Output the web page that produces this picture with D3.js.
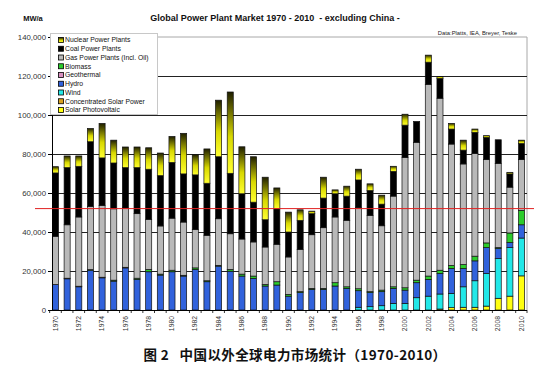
<!DOCTYPE html>
<html><head><meta charset="utf-8">
<script src="https://cdn.jsdelivr.net/npm/d3@7/dist/d3.min.js"></script>
<style>
body{margin:0;background:#fff}
svg{display:block}
text{font-family:"Liberation Sans",Arial,sans-serif}
</style>
</head><body>
<svg id="c" width="549" height="380"></svg>
<script>
// ---------- data (MW per year) ----------
const years = [1970,1971,1972,1973,1974,1975,1976,1977,1978,1979,1980,1981,1982,1983,1984,1985,1986,1987,1988,1989,1990,1991,1992,1993,1994,1995,1996,1997,1998,1999,2000,2001,2002,2003,2004,2005,2006,2007,2008,2009,2010];
const solarPV    = [0,0,0,0,0,0,0,0,0,0,0,0,0,0,0,0,0,0,0,0,0,0,0,0,0,0,0,0,0,0,0,0,0,500,1200,1400,1400,2000,6000,7100,17500];
const csp        = [0,0,0,0,0,0,0,0,0,0,0,0,0,0,0,0,0,0,0,0,0,0,0,0,0,0,0,0,0,0,0,0,0,0,0,0,0,0,0,0,0];
const wind       = [0,0,0,0,0,0,0,0,0,0,0,0,0,0,0,0,0,0,0,0,0,0,0,0,0,0,1400,1700,2200,3400,3400,6300,7100,7700,7300,10500,13600,16700,20400,24900,19400];
const hydro      = [13100,16000,11900,20400,16500,14800,21600,15700,19600,17900,19600,17400,20800,14500,22500,19900,17400,16200,12300,12800,7100,8900,10600,10600,12300,11100,8500,7200,7200,7700,6800,7700,8600,10500,12800,9400,10200,13300,5100,2600,6800];
const geothermal = [0,0,0,0,0,0,0,0,0,0,0,0,0,0,0,0,0,0,0,0,0,0,0,0,0,0,0,0,0,0,0,0,0,0,0,0,0,0,0,0,0];
const biomass    = [0,300,300,300,300,500,300,600,1200,500,800,400,800,500,400,900,1000,1200,800,1700,900,500,500,500,1700,800,1000,500,800,800,1200,1300,1700,1700,1500,2000,2400,2400,500,4900,7400];
const gas        = [24700,27400,35500,32400,36800,36600,30400,33100,25700,24700,26700,27300,19600,23300,23900,18300,18000,17500,19200,19200,19200,21700,27500,31100,33700,34100,41500,39100,33000,46500,66800,70700,98300,88200,62300,51600,52700,42700,43200,23500,26000];
const coal       = [32500,29300,26000,33200,24400,23500,20700,23600,25700,25800,28600,24700,28100,26700,31800,31000,23200,20400,14000,18200,12800,14900,10800,15200,11900,12400,14300,12800,11100,12700,16600,10700,11400,10200,7700,7100,10800,11400,12100,6800,8300];
const nuclear    = [3200,6000,5300,6800,17700,11700,10600,10600,11000,11600,13300,20800,10400,17600,29000,41700,24100,23300,21800,10700,10200,5400,1300,10700,2000,5100,5500,3400,4600,2600,5600,0,3600,900,2900,5100,1700,900,0,800,1700];
const seriesNames = ["Solar Photovoltaic","Concentrated Solar Power","Wind","Hydro","Geothermal","Biomass","Gas Power Plants (incl. Oil)","Coal Power Plants","Nuclear Power Plants"];
const seriesData  = [solarPV, csp, wind, hydro, geothermal, biomass, gas, coal, nuclear];
const yTicks = [0,20000,40000,60000,80000,100000,120000,140000];
const referenceLine = 52000;

// ---------- styles ----------
const colors = {
  "Solar Photovoltaic":"#ffff10",
  "Concentrated Solar Power":"#d8a020",
  "Wind":"#22e8e8",
  "Hydro":"#3162dc",
  "Geothermal":"#d890c0",
  "Biomass":"#2ccc2c",
  "Gas Power Plants (incl. Oil)":"#b9b9b9",
  "Coal Power Plants":"#000000",
  "Nuclear Power Plants":"url(#nucGrad)"
};
const legendOrder = ["Nuclear Power Plants","Coal Power Plants","Gas Power Plants (incl. Oil)","Biomass","Geothermal","Hydro","Wind","Concentrated Solar Power","Solar Photovoltaic"];
const legendLabels = {"Gas Power Plants (incl. Oil)":"Gas Power Plants (Incl. Oil)"};

const svg = d3.select("#c");
const defs = svg.append("defs");
const g1 = defs.append("linearGradient").attr("id","nucGrad").attr("x1",0).attr("y1",0).attr("x2",0).attr("y2",1);
g1.append("stop").attr("offset","0").attr("stop-color","#1e1e00");
g1.append("stop").attr("offset","0.55").attr("stop-color","#d8d800");
g1.append("stop").attr("offset","1").attr("stop-color","#ffff30");

const M = {left:52, right:527, top:37, bottom:310};
const x = d3.scaleBand().domain(years).range([50, M.right]).paddingInner(0.48).paddingOuter(0.21);
const y = d3.scaleLinear().domain([0,140000]).range([M.bottom, M.top]);

// table for stack
const table = years.map((yr,i)=>{
  const o = {year:yr};
  seriesNames.forEach((n,k)=> o[n] = seriesData[k][i]);
  return o;
});
const stacked = d3.stack().keys(seriesNames)(table);

// plot border (top/right)
svg.append("path").attr("d",`M${M.left},${M.top}H${M.right}V${M.bottom}`)
  .attr("fill","none").attr("stroke","#a8a8a8").attr("stroke-width",1);

// gridlines
svg.append("g").selectAll("line").data(yTicks.filter(t=>t>0 && t<140000)).join("line")
  .attr("x1",M.left).attr("x2",M.right)
  .attr("y1",d=>Math.round(y(d))+0.5).attr("y2",d=>Math.round(y(d))+0.5)
  .attr("stroke","#222").attr("stroke-width",1);

// bars
svg.append("g").selectAll("g").data(stacked).join("g")
  .attr("fill",d=>colors[d.key])
  .selectAll("rect").data(d=>d.filter(s=>s[1]-s[0]>0)).join("rect")
  .attr("x",d=>x(d.data.year))
  .attr("width",x.bandwidth())
  .attr("y",d=>y(d[1]))
  .attr("height",d=>y(d[0])-y(d[1]))
  .attr("stroke","#111").attr("stroke-width",0.7);

// y axis
const yAxis = svg.append("g").attr("transform",`translate(${M.left},0)`)
  .call(d3.axisLeft(y).tickValues(yTicks).tickSize(4).tickPadding(2)
        .tickFormat(d=>d3.format(",")(d)));
yAxis.select(".domain").attr("stroke","#000");
yAxis.selectAll(".tick line").attr("stroke","#000");
yAxis.selectAll("text").attr("font-size",7.8).attr("fill","#333")
  .style("font-family","'Liberation Sans',Arial,sans-serif");

// x axis
const xAxis = svg.append("g").attr("transform",`translate(0,${M.bottom})`)
  .call(d3.axisBottom(x).tickSize(0).tickFormat(d=> d%2===0 ? d : ""));
xAxis.select(".domain").attr("stroke","#000").attr("d",`M${M.left},0.5H${M.right}`);
xAxis.selectAll(".tick text")
  .attr("transform","rotate(-90)").attr("text-anchor","end")
  .attr("x",-6).attr("y",0).attr("dy","0.32em")
  .attr("font-size",6.8).attr("fill","#333")
  .style("font-family","'Liberation Sans',Arial,sans-serif");
// category boundary ticks
svg.append("g").selectAll("line").data(years).join("line")
  .attr("x1",d=>x(d)-x.step()*x.paddingInner()/2).attr("x2",d=>x(d)-x.step()*x.paddingInner()/2)
  .attr("y1",M.bottom).attr("y2",M.bottom+3).attr("stroke","#000").attr("stroke-width",0.8);
svg.append("line").attr("x1",M.right).attr("x2",M.right).attr("y1",M.bottom).attr("y2",M.bottom+3).attr("stroke","#000").attr("stroke-width",0.8);

// reference line
svg.append("line").attr("x1",35).attr("x2",534)
  .attr("y1",y(referenceLine)).attr("y2",y(referenceLine))
  .attr("stroke","#e02020").attr("stroke-width",1);

// legend
const lg = svg.append("g");
lg.append("rect").attr("x",50.5).attr("y",33.5).attr("width",107).attr("height",81)
  .attr("fill","#fff").attr("stroke","#c8c8c8");
legendOrder.forEach((n,i)=>{
  const yy = 40 + i*8.75;
  lg.append("rect").attr("x",58.5).attr("y",yy-2.5).attr("width",5).attr("height",5)
    .attr("fill",colors[n]).attr("stroke","#000").attr("stroke-width",0.8);
  lg.append("text").attr("x",65).attr("y",yy).attr("dy","0.35em")
    .attr("font-size",6.8).attr("fill","#111").text(legendLabels[n]||n);
});

// titles
svg.append("text").attr("x",33).attr("y",21).attr("text-anchor","middle")
  .attr("font-size",7.5).attr("font-weight","bold").attr("fill","#111").text("MW/a");
svg.append("text").attr("x",275).attr("y",21).attr("text-anchor","middle")
  .attr("font-size",9).attr("font-weight","bold").attr("fill","#111")
  .text("Global Power Plant Market 1970 - 2010  - excluding China -").attr("xml:space","preserve").style("white-space","pre");
svg.append("text").attr("x",517).attr("y",35).attr("text-anchor","end")
  .attr("font-size",5.8).attr("fill","#222").text("Data:Platts, IEA, Breyer, Teske");

// caption
svg.append("text").attr("x",295).attr("y",360).attr("text-anchor","middle")
  .attr("font-size",13.5).attr("font-weight","bold").attr("fill","#111")
  .style("font-family","'Noto Sans CJK SC','Noto Sans',sans-serif").style("white-space","pre")
  .style("letter-spacing","0.4px")
  .text("图 2   中国以外全球电力市场统计（1970-2010）");
</script>
</body></html>
